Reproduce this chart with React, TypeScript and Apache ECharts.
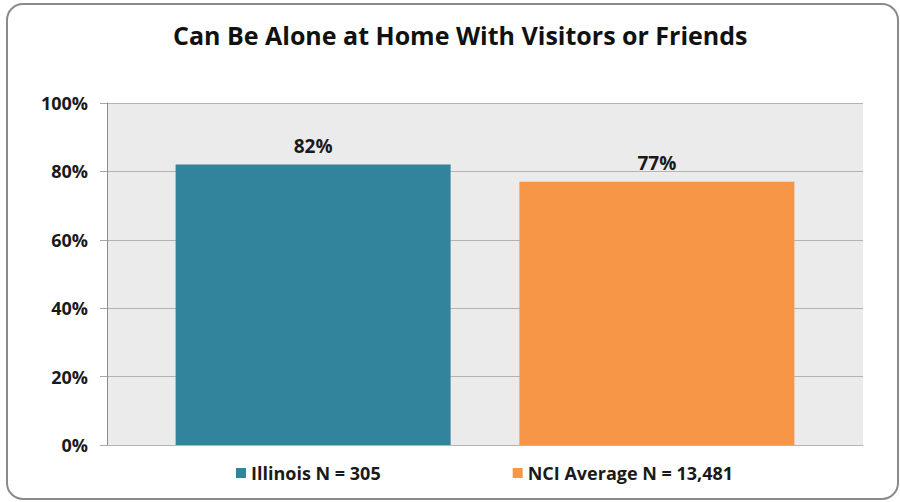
import React, { useEffect, useRef } from "react";
import * as echarts from "echarts";

const titleText = "Can Be Alone at Home With Visitors or Friends";
const categories = [""];
const seriesNames = ["Illinois N = 305", "NCI Average N = 13,481"];
const illinoisValues = [82];
const nciValues = [77];
const seriesColors = ["#31849B", "#F79646"];
const yTicks = [0, 20, 40, 60, 80, 100];

export default function App() {
  const ref = useRef<HTMLDivElement>(null);
  useEffect(() => {
    if (!ref.current) return;
    const chart = echarts.init(ref.current, null, { renderer: "svg" });
    const font = "'Open Sans', 'Noto Sans', sans-serif";
    const labelStyle = {
      show: true,
      position: "top" as const,
      distance: 9,
      formatter: "{c}%",
      fontFamily: font,
      fontWeight: "bold" as const,
      fontSize: 19,
      color: "#1a1a1a",
    };
    chart.setOption({
      animation: false,
      backgroundColor: "#ffffff",
      textStyle: { fontFamily: font },
      graphic: [
        {
          type: "rect",
          shape: { x: 7, y: 4, width: 891, height: 495, r: 16 },
          style: { fill: "none", stroke: "#8a8a8a", lineWidth: 2 },
          z: -1,
        },
      ],
      title: {
        text: titleText,
        left: 168,
        top: 17,
        textStyle: {
          fontFamily: font,
          fontWeight: "bold",
          fontSize: 25,
          color: "#111111",
        },
      },
      legend: {
        bottom: 15,
        left: 231,
        itemGap: 132,
        icon: "rect",
        itemWidth: 10,
        itemHeight: 10,
        textStyle: {
          fontFamily: font,
          fontWeight: "bold",
          fontSize: 18,
          color: "#1a1a1a",
        },
        data: seriesNames,
      },
      grid: {
        left: 107,
        right: 37,
        top: 103,
        bottom: 57,
        show: true,
        backgroundColor: "#EBEBEB",
        borderWidth: 0,
      },
      xAxis: {
        type: "category",
        data: categories,
        axisLine: { show: true, lineStyle: { color: "#B5B5B5", width: 1 } },
        axisTick: { show: false },
        axisLabel: { show: false },
      },
      yAxis: {
        type: "value",
        min: 0,
        max: 100,
        interval: 20,
        axisLine: { show: true, lineStyle: { color: "#8C8C8C", width: 1 } },
        axisTick: { show: true, length: 7, lineStyle: { color: "#A6A6A6" } },
        splitLine: { show: true, lineStyle: { color: "#B3B3B3", width: 1 } },
        axisLabel: {
          margin: 19,
          formatter: (v: number) => (yTicks.includes(v) ? v + "%" : ""),
          fontFamily: font,
          fontWeight: "bold",
          fontSize: 18,
          color: "#1a1a1a",
        },
      },
      series: [
        {
          name: seriesNames[0],
          type: "bar",
          data: illinoisValues,
          barWidth: 275,
          barGap: "25%",
          itemStyle: { color: seriesColors[0] },
          label: labelStyle,
        },
        {
          name: seriesNames[1],
          type: "bar",
          data: nciValues,
          barWidth: 275,
          barGap: "25%",
          itemStyle: { color: seriesColors[1] },
          label: labelStyle,
        },
      ],
    });
    return () => chart.dispose();
  }, []);
  return (
    <div
      ref={ref}
      style={{ position: "fixed", left: 0, top: 0, width: 900, height: 502 }}
    />
  );
}
